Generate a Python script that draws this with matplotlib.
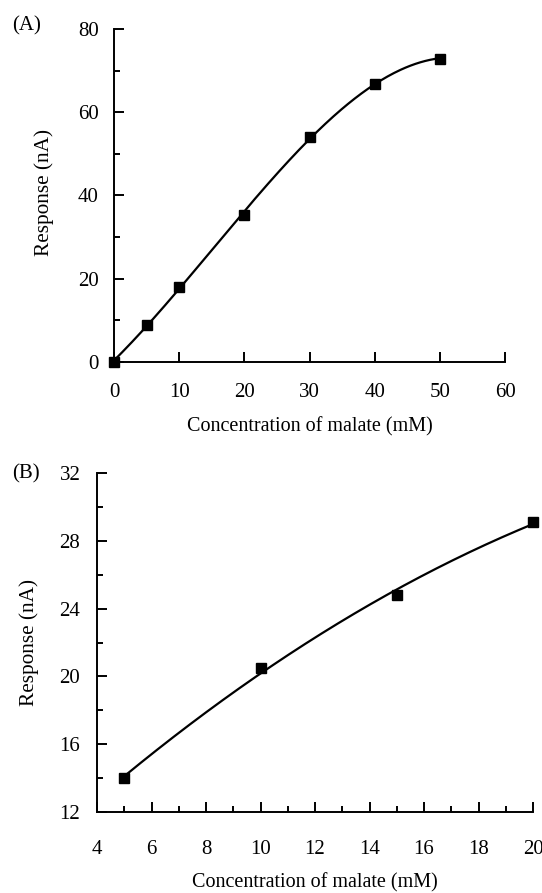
import numpy as np
import matplotlib
matplotlib.use("Agg")
import matplotlib.pyplot as plt
from matplotlib.ticker import MultipleLocator

plt.rcParams['font.family'] = ['Liberation Serif', 'DejaVu Serif']

# Panel A data
conc_a = [0, 5, 10, 20, 30, 40, 50]
resp_a = [0, 9.0, 18.1, 35.2, 54.0, 66.8, 72.9]
# Panel B data
conc_b = [5, 10, 15, 20]
resp_b = [14.0, 20.5, 24.8, 29.1]

xlabel = "Concentration of malate (mM)"
ylabel = "Response (nA)"

fig = plt.figure(figsize=(5.42, 8.93), dpi=100)

tick_fs = 15
label_fs = 14.5
ylabel_fs = 15.3

def style(ax):
    for s in ['top', 'right']:
        ax.spines[s].set_visible(False)
    for s in ['left', 'bottom']:
        ax.spines[s].set_linewidth(1.4)
    ax.tick_params(which='both', direction='in', width=1.4, labelsize=tick_fs)
    ax.tick_params(which='major', length=7)
    ax.tick_params(which='minor', length=4.5)

# Panel A
axA = fig.add_axes([114/542, 1-362/893, (505-114)/542, (362-29)/893])
style(axA)
axA.set_xlim(0, 60)
axA.set_ylim(0, 80)
axA.xaxis.set_major_locator(MultipleLocator(10))
axA.yaxis.set_major_locator(MultipleLocator(20))
axA.yaxis.set_minor_locator(MultipleLocator(10))
axA.tick_params(axis='x', pad=15)
axA.tick_params(axis='y', pad=11)
ca = np.polyfit(conc_a, resp_a, 3)
xa = np.linspace(min(conc_a), max(conc_a), 200)
axA.plot(xa, np.polyval(ca, xa), color='black', lw=1.6, clip_on=False)
axA.plot(conc_a, resp_a, 's', color='black', ms=6.5, clip_on=False)
axA.set_xlabel(xlabel, fontsize=label_fs, labelpad=11)
axA.set_ylabel(ylabel, fontsize=ylabel_fs, labelpad=17)
axA.yaxis.label.set_y(0.51)
fig.text(12/542, 1-26/893, "(A)", fontsize=tick_fs, va='center', ha='left')

# Panel B
axB = fig.add_axes([97/542, 1-812/893, (533-97)/542, (812-473)/893])
style(axB)
axB.set_xlim(4, 20)
axB.set_ylim(12, 32)
axB.xaxis.set_major_locator(MultipleLocator(2))
axB.xaxis.set_minor_locator(MultipleLocator(1))
axB.yaxis.set_major_locator(MultipleLocator(4))
axB.yaxis.set_minor_locator(MultipleLocator(2))
axB.tick_params(axis='x', pad=20)
axB.tick_params(axis='y', pad=12)
cb = np.polyfit(conc_b, resp_b, 2)
xb = np.linspace(min(conc_b), max(conc_b), 200)
axB.plot(xb, np.polyval(cb, xb), color='black', lw=1.6, clip_on=False)
axB.plot(conc_b, resp_b, 's', color='black', ms=6.5, clip_on=False)
axB.set_xlabel(xlabel, fontsize=label_fs, labelpad=10)
axB.set_ylabel(ylabel, fontsize=ylabel_fs, labelpad=15)
fig.text(12/542, 1-474/893, "(B)", fontsize=tick_fs, va='center', ha='left')

fig.savefig("out.png", dpi=100)
